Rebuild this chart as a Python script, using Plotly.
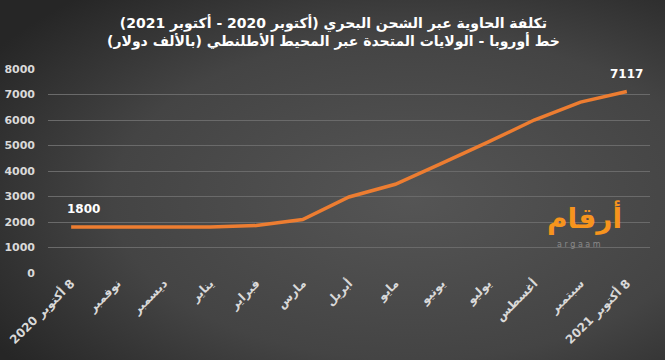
import base64
import plotly.graph_objects as go

categories = ["8 أكتوبر 2020", "نوفمبر", "ديسمبر", "يناير", "فبراير", "مارس",
              "أبريل", "مايو", "يونيو", "يوليو", "أغسطس", "سبتمبر", "8 أكتوبر 2021"]
cost = [1800, 1800, 1800, 1800, 1860, 2100, 2980, 3480, 4300, 5130, 6000, 6700, 7117]
y_ticks = [0, 1000, 2000, 3000, 4000, 5000, 6000, 7000, 8000]
title_line1 = "تكلفة الحاوية عبر الشحن البحري (أكتوبر 2020 - أكتوبر 2021)"
title_line2 = "خط أوروبا - الولايات المتحدة عبر المحيط الأطلنطي (بالألف دولار)"

RLE, PDF = "\u202B", "\u202C"


def rtl(s):
    return RLE + s + PDF


tick_text = [rtl(c) for c in categories]

svg = """<svg xmlns='http://www.w3.org/2000/svg' width='665' height='360'>
<defs><radialGradient id='g' cx='0.62' cy='0.55' r='0.75' fx='0.62' fy='0.55'>
<stop offset='0' stop-color='#555555'/><stop offset='0.6' stop-color='#444444'/>
<stop offset='1' stop-color='#262626'/></radialGradient></defs>
<rect width='665' height='360' fill='url(#g)'/></svg>"""
bg_src = "data:image/svg+xml;base64," + base64.b64encode(svg.encode()).decode()

AR = "DejaVu Sans"
NUM = "Tahoma, DejaVu Sans"

fig = go.Figure()
fig.add_trace(go.Scatter(
    x=categories, y=cost, mode="lines",
    line=dict(color="#ED7D31", width=3.5),
    cliponaxis=False, hoverinfo="x+y",
))

annotations = [
    dict(text=rtl(title_line1) + "<br>" + rtl(title_line2), xref="paper", yref="paper",
         x=(333 - 48) / 602, y=1 + (69 - 32) / 204, xanchor="center", yanchor="middle",
         showarrow=False, font=dict(family=AR, size=14, color="white", weight="bold")),
    dict(text="أرقام", xref="paper", yref="paper", x=(624 - 48) / 602,
         y=(273.3 - 237) / 204, xanchor="right", yanchor="bottom", showarrow=False,
         font=dict(family=AR, size=28, color="#F7941D", weight="bold")),
    dict(text="a r g a a m", xref="paper", yref="paper", x=(579 - 48) / 602,
         y=(273.3 - 238) / 204, xanchor="center", yanchor="top", showarrow=False,
         font=dict(family="DejaVu Sans", size=8, color="#8a8a8a")),
]
for i in (0, len(cost) - 1):
    annotations.append(dict(
        text=str(cost[i]), x=categories[i], y=cost[i], xref="x", yref="y",
        showarrow=False, xanchor="center", yanchor="bottom", yshift=9, xshift=12 if i == 0 else 0,
        font=dict(family=NUM, size=12, color="white", weight="bold")))

fig.update_layout(
    width=665, height=360,
    margin=dict(l=48, r=15, t=69, b=87, autoexpand=False),
    paper_bgcolor="#3a3a3a", plot_bgcolor="rgba(0,0,0,0)",
    showlegend=False,
    images=[dict(source=bg_src, xref="paper", yref="paper", x=-48/602, y=1 + 69/204,
                 sizex=665/602, sizey=360/204, xanchor="left", yanchor="top",
                 sizing="stretch", layer="below")],
    xaxis=dict(type="category", categoryorder="array", categoryarray=categories,
               tickvals=categories, ticktext=tick_text, automargin=False,
               range=[-0.5, 12.5], tickangle=-45, showgrid=False, showline=False,
               ticks="", tickfont=dict(family=AR, size=12, color="#d9d9d9", weight="bold")),
    yaxis=dict(range=[0, 8000], tickvals=y_ticks, showgrid=True, gridcolor="#6a6a6a",
               gridwidth=1, zeroline=False, showline=False, ticks="", automargin=False,
               ticklabelstandoff=12,
               tickfont=dict(family=NUM, size=11, color="#d9d9d9", weight="bold")),
    annotations=annotations,
)

fig.write_html("out.html", config={"displayModeBar": False},
               post_script="document.body.style.margin='0';document.body.style.overflow='hidden';")
